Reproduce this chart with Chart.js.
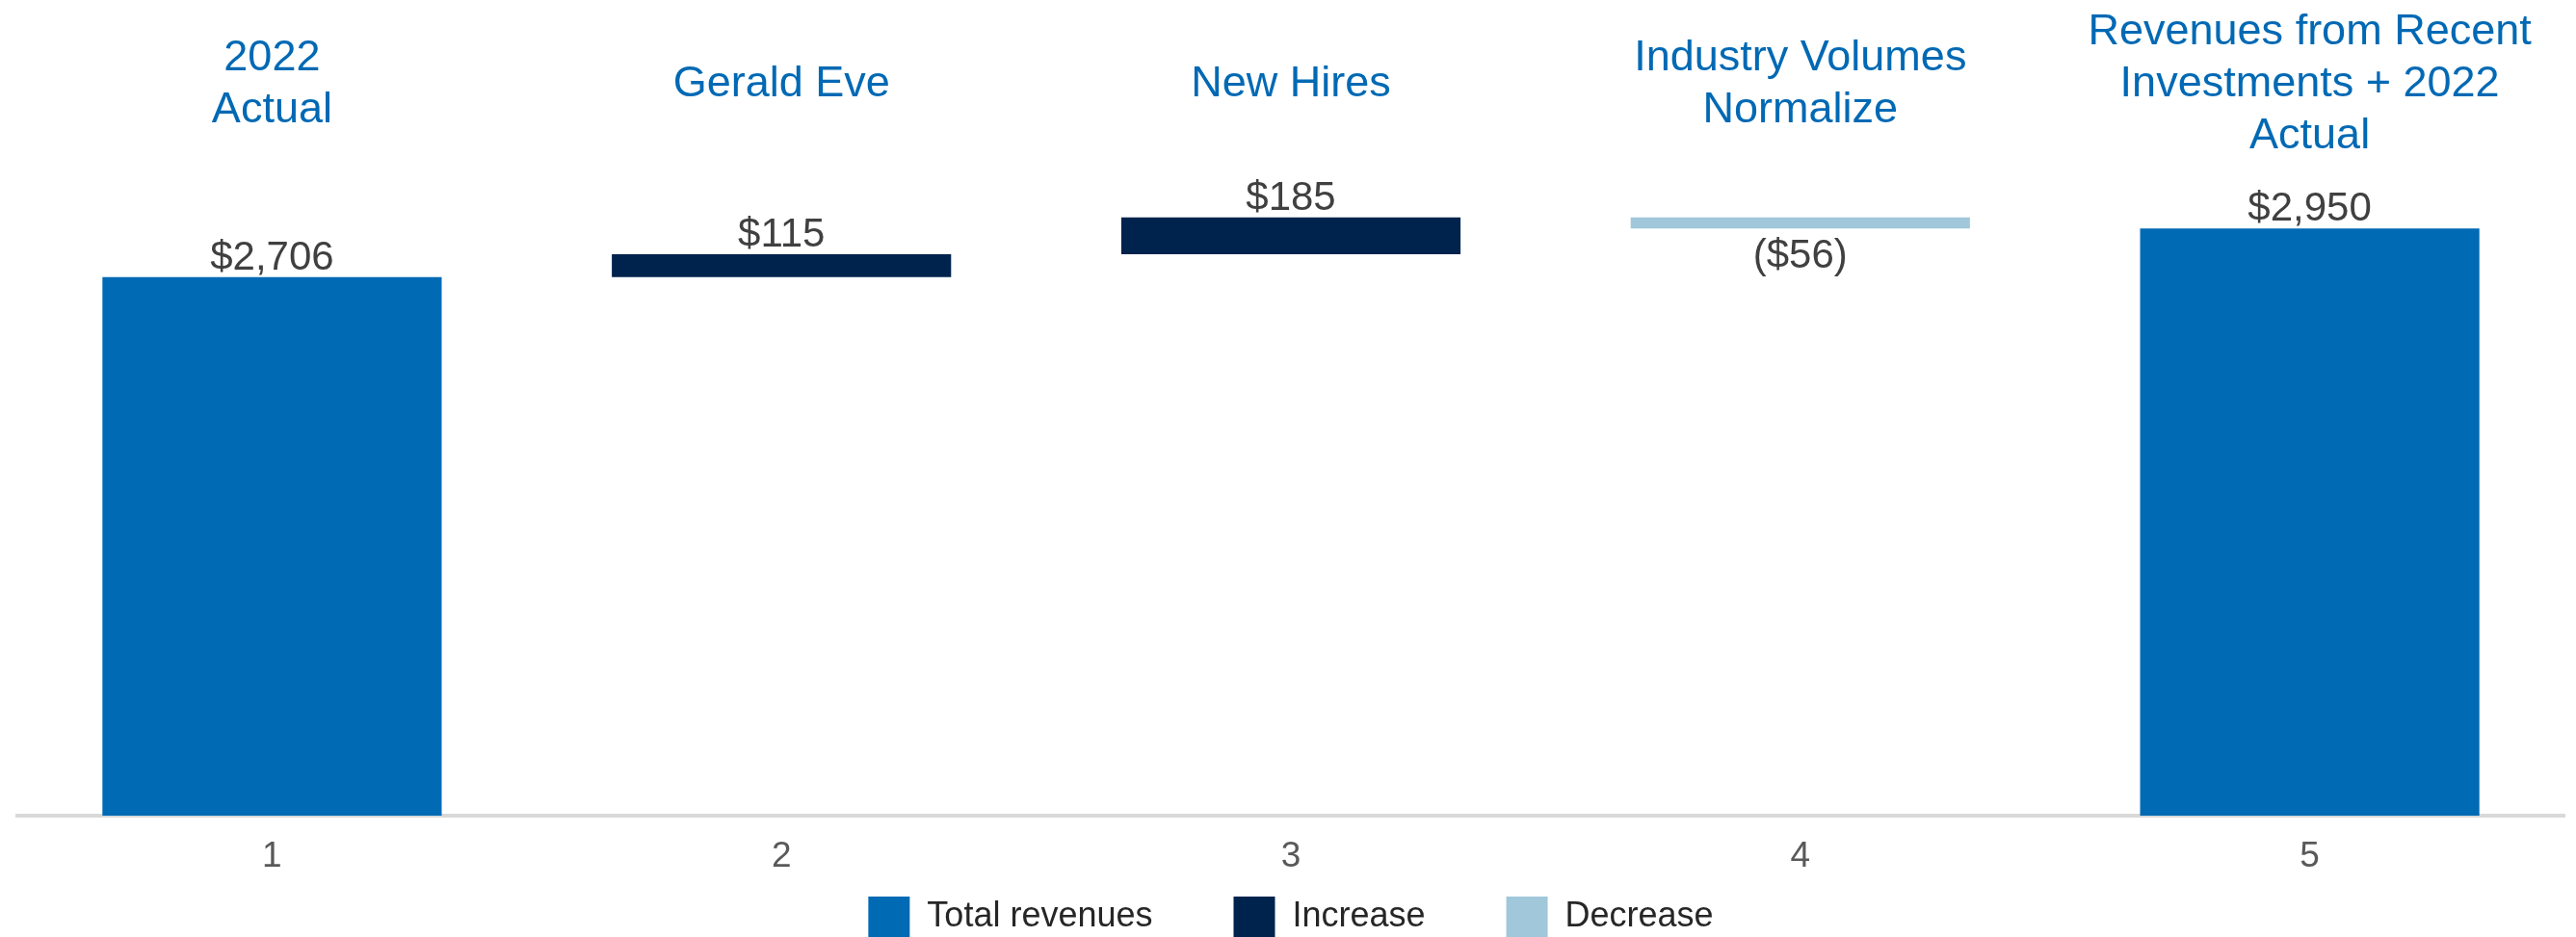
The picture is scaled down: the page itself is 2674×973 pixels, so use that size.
<!DOCTYPE html>
<html>
<head>
<meta charset="utf-8">
<script src="https://cdn.jsdelivr.net/npm/chart.js@4.4.1/dist/chart.umd.min.js"></script>
<style>
  html, body { margin: 0; padding: 0; background: #fff; }
  canvas { display: block; }
</style>
</head>
<body>
<canvas id="bridge" width="2674" height="973"></canvas>
<script>
// revenue bridge: steps along the axis, names shown above each column
const steps = ['1', '2', '3', '4', '5'];
const stepNames = [
    ['2022', 'Actual'],
    ['Gerald Eve'],
    ['New Hires'],
    ['Industry Volumes', 'Normalize'],
    ['Revenues from Recent', 'Investments + 2022', 'Actual']
];
const totals = [2706, null, null, null, 2950];
const changes = [null, 115, 185, -56, null];

const BLUE = '#006AB5';
const NAVY = '#00234E';
const LIGHT = '#A0C8DA';
const FONT = '"Liberation Sans", Arial, sans-serif';

// turn totals and changes into floating [start, end] bars
const totalBars = [], upBars = [], downBars = [];
let running = 0;
steps.forEach((s, i) => {
    totalBars.push(null); upBars.push(null); downBars.push(null);
    if (totals[i] !== null) {
        totalBars[i] = [0, totals[i]];
        running = totals[i];
    } else {
        const next = running + changes[i];
        const range = [Math.min(running, next), Math.max(running, next)];
        if (changes[i] >= 0) upBars[i] = range; else downBars[i] = range;
        running = next;
    }
});

function money(v) {
    const s = '$' + Math.abs(v).toLocaleString('en-US');
    return v < 0 ? '(' + s + ')' : s;
}

// names above columns + value labels on each bar
const barLabels = {
    id: 'barLabels',
    afterDatasetsDraw(chart) {
        const { ctx, scales: { x } } = chart;
        ctx.save();
        ctx.textAlign = 'center';
        ctx.textBaseline = 'alphabetic';

        ctx.fillStyle = '#0069B4';
        ctx.font = '45px ' + FONT;
        stepNames.forEach((lines, i) => {
            const cx = x.getPixelForValue(i);
            lines.forEach((line, j) => {
                ctx.fillText(line, cx, 100 + (j - (lines.length - 1) / 2) * 54);
            });
        });

        ctx.fillStyle = '#404040';
        ctx.font = '42px ' + FONT;
        chart.data.datasets.forEach((ds, d) => {
            chart.getDatasetMeta(d).data.forEach((bar, i) => {
                if (ds.data[i] == null) return;
                const v = totals[i] !== null ? totals[i] : changes[i];
                const top = Math.min(bar.y, bar.base);
                const bottom = Math.max(bar.y, bar.base);
                if (v < 0) ctx.fillText(money(v), bar.x, bottom + 41);
                else ctx.fillText(money(v), bar.x, top - 8);
            });
        });
        ctx.restore();
    }
};

Chart.defaults.font.family = FONT;

new Chart(document.getElementById('bridge'), {
    type: 'bar',
    data: {
        labels: steps,
        datasets: [
            { label: 'Total revenues', data: totalBars, backgroundColor: BLUE },
            { label: 'Increase', data: upBars, backgroundColor: NAVY },
            { label: 'Decrease', data: downBars, backgroundColor: LIGHT }
        ]
    },
    options: {
        responsive: false,
        animation: false,
        grouped: false,
        categoryPercentage: 1,
        barPercentage: 0.666,
        layout: { padding: { top: 165, left: 18, right: 12, bottom: 0 } },
        scales: {
            x: {
                grid: { display: false, drawTicks: false },
                border: { display: true, color: '#D9D9D9', width: 4 },
                // mirrored ticks are not clipped to the (zero-height) axis box;
                // negative padding pushes them back below the axis line
                ticks: { color: '#595959', font: { size: 37 }, mirror: true, padding: -65 },
                afterFit: s => { s.height = 0; }
            },
            y: { display: false, min: 0, max: 3300 }
        },
        plugins: {
            tooltip: { enabled: false },
            legend: {
                position: 'bottom',
                maxHeight: 126,
                labels: {
                    boxWidth: 43,
                    boxHeight: 43,
                    padding: 84,
                    color: '#262626',
                    font: { size: 36 }
                }
            }
        }
    },
    plugins: [barLabels]
});
</script>
</body>
</html>
